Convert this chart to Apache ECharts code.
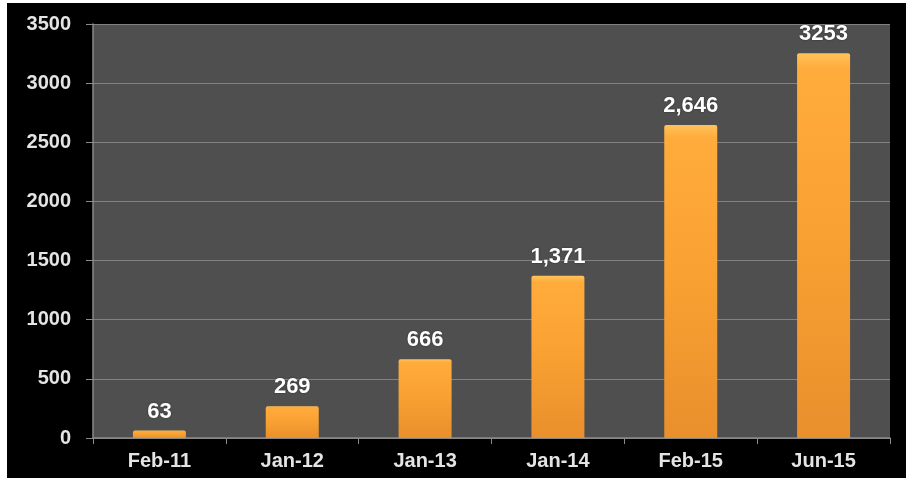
<!DOCTYPE html>
<html>
<head>
<meta charset="utf-8">
<script src="https://cdn.jsdelivr.net/npm/echarts@6/dist/echarts.min.js"></script>
<style>
html,body{margin:0;padding:0;background:#ffffff;width:906px;height:481px;overflow:hidden;}
#frame{position:absolute;left:7px;top:3px;width:899px;height:475px;background:#000;}
#chart{width:899px;height:475px;}
</style>
</head>
<body>
<div id="frame"><div id="chart"></div></div>
<script>
var categories = ['Feb-11', 'Jan-12', 'Jan-13', 'Jan-14', 'Feb-15', 'Jun-15'];
var values = [63, 269, 666, 1371, 2646, 3253];
var valueLabels = ['63', '269', '666', '1,371', '2,646', '3253'];
var yTicks = [0, 500, 1000, 1500, 2000, 2500, 3000, 3500];

var chart = echarts.init(document.getElementById('chart'), null, {renderer: 'canvas'});
var font = '"Liberation Sans", Arial, sans-serif';
chart.setOption({
  backgroundColor: '#000000',
  animation: false,
  grid: {
    left: 86, right: 16, top: 21, bottom: 40,
    show: true, backgroundColor: '#4f4f4f', borderWidth: 0
  },
  xAxis: {
    type: 'category',
    data: categories,
    axisLine: {show: true, lineStyle: {color: '#8a8a8a', width: 1.5}},
    axisTick: {show: true, length: 6, lineStyle: {color: '#8a8a8a'}},
    axisLabel: {color: '#e4e4e4', fontSize: 20, fontWeight: 'bold', fontFamily: font, margin: 13}
  },
  yAxis: {
    type: 'value',
    min: yTicks[0], max: yTicks[yTicks.length - 1], interval: 500,
    axisLine: {show: true, lineStyle: {color: '#8a8a8a', width: 1.5}},
    axisTick: {show: true, length: 7, lineStyle: {color: '#8a8a8a'}},
    splitLine: {show: true, lineStyle: {color: '#828282', width: 1.2}},
    axisLabel: {color: '#e4e4e4', fontSize: 20, fontWeight: 'bold', fontFamily: font, margin: 22,
      formatter: function (v) { return String(v); }}
  },
  series: [{
    type: 'bar',
    data: values,
    barWidth: 53,
    itemStyle: {
      color: new echarts.graphic.LinearGradient(0, 0, 0, 1, [
        {offset: 0, color: '#ffc25a'},
        {offset: 0.04, color: '#ffac3c'},
        {offset: 0.5, color: '#f9a032'},
        {offset: 1, color: '#e98f2c'}
      ]),
      borderRadius: [2, 2, 0, 0]
    },
    label: {
      show: true, position: 'top', distance: 8,
      color: '#ffffff', fontSize: 22, fontWeight: 'bold', fontFamily: font,
      textShadowColor: 'rgba(0,0,0,0.5)', textShadowBlur: 2,
      formatter: function (p) { return valueLabels[p.dataIndex]; }
    }
  }]
});
</script>
</body>
</html>
